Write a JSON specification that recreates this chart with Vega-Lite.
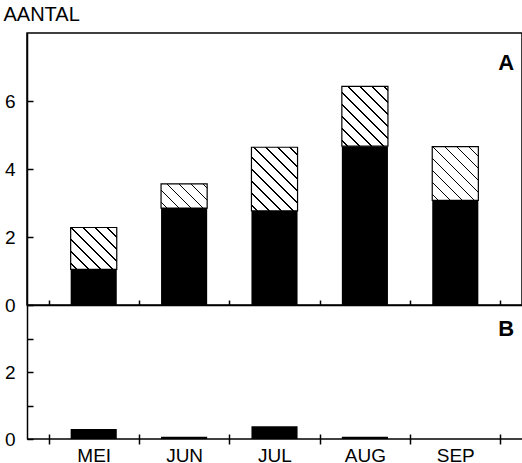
{
  "$schema": "https://vega.github.io/schema/vega-lite/v6.json",
  "padding": {"left": 2, "top": 3, "right": 1, "bottom": 0},
  "spacing": 0,
  "bounds": "flush",
  "config": {
    "view": {"stroke": null},
    "font": "Liberation Sans",
    "axis": {
      "domainColor": "black", "domainWidth": 1.5,
      "tickColor": "black", "tickWidth": 1.5,
      "labelColor": "black", "labelFont": "Liberation Sans", "labelFontSize": 19,
      "titleColor": "black", "titleFont": "Liberation Sans",
      "grid": false
    }
  },
  "datasets": {
    "top": [
      {"month": "MEI", "zwart": 1.05, "totaal": 2.28},
      {"month": "JUN", "zwart": 2.85, "totaal": 3.56},
      {"month": "JUL", "zwart": 2.77, "totaal": 4.64},
      {"month": "AUG", "zwart": 4.67, "totaal": 6.43},
      {"month": "SEP", "zwart": 3.08, "totaal": 4.66}
    ],
    "bottom": [
      {"month": "MEI", "aantal": 0.3},
      {"month": "JUN", "aantal": 0.07},
      {"month": "JUL", "aantal": 0.38},
      {"month": "AUG", "aantal": 0.07},
      {"month": "SEP", "aantal": 0}
    ]
  },
  "vconcat": [
    {
      "width": 495,
      "height": 272,
      "view": {"stroke": "black", "strokeWidth": 1.5},
      "data": {"name": "top"},
      "encoding": {
        "x": {
          "field": "month", "type": "nominal",
          "sort": ["MEI", "JUN", "JUL", "AUG", "SEP"],
          "scale": {"paddingInner": 0, "paddingOuter": 0.238},
          "axis": {"labels": false, "title": null, "tickBand": "extent", "tickSize": -5}
        }
      },
      "layer": [
        {
          "mark": {"type": "bar", "color": "black", "width": {"band": 0.51}},
          "encoding": {
            "y": {
              "field": "zwart", "type": "quantitative",
              "scale": {"domain": [0, 8], "nice": false},
              "axis": {
                "title": "AANTAL", "titleAngle": 0, "titleAlign": "left", "titleBaseline": "top",
                "titleX": -24, "titleY": -29, "titleFontSize": 20, "titleFontWeight": "normal",
                "values": [0, 1, 2, 3, 4, 5, 6, 7],
                "labelExpr": "datum.value % 2 === 0 ? datum.label : ''",
                "tickSize": -6, "labelPadding": 18
              }
            }
          }
        },
        {
          "mark": {"type": "bar", "stroke": "black", "strokeWidth": 1.2, "width": {"band": 0.51}},
          "encoding": {
            "y": {"field": "zwart", "type": "quantitative", "title": "AANTAL"},
            "y2": {"field": "totaal"},
            "fill": {
              "condition": [
                {"test": "datum.month === 'MEI'", "value": {"gradient": "linear", "x1": 0, "y1": 1, "x2": 1.0464, "y2": 0.0511, "stops": [
                  {"offset": 0.0586, "color": "white"}, {"offset": 0.0586, "color": "black"}, {"offset": 0.078, "color": "black"}, {"offset": 0.078, "color": "white"},
                  {"offset": 0.1951, "color": "white"}, {"offset": 0.1951, "color": "black"}, {"offset": 0.2145, "color": "black"}, {"offset": 0.2145, "color": "white"},
                  {"offset": 0.3316, "color": "white"}, {"offset": 0.3316, "color": "black"}, {"offset": 0.351, "color": "black"}, {"offset": 0.351, "color": "white"},
                  {"offset": 0.4681, "color": "white"}, {"offset": 0.4681, "color": "black"}, {"offset": 0.4875, "color": "black"}, {"offset": 0.4875, "color": "white"},
                  {"offset": 0.6046, "color": "white"}, {"offset": 0.6046, "color": "black"}, {"offset": 0.624, "color": "black"}, {"offset": 0.624, "color": "white"},
                  {"offset": 0.7412, "color": "white"}, {"offset": 0.7412, "color": "black"}, {"offset": 0.7606, "color": "black"}, {"offset": 0.7606, "color": "white"},
                  {"offset": 0.8777, "color": "white"}, {"offset": 0.8777, "color": "black"}, {"offset": 0.8971, "color": "black"}, {"offset": 0.8971, "color": "white"}
                ]}},
                {"test": "datum.month === 'JUN'", "value": {"gradient": "linear", "x1": 0, "y1": 1, "x2": 1.196, "y2": 0.3748, "stops": [
                  {"offset": 0.0734, "color": "white"}, {"offset": 0.0734, "color": "black"}, {"offset": 0.0976, "color": "black"}, {"offset": 0.0976, "color": "white"},
                  {"offset": 0.2443, "color": "white"}, {"offset": 0.2443, "color": "black"}, {"offset": 0.2685, "color": "black"}, {"offset": 0.2685, "color": "white"},
                  {"offset": 0.4153, "color": "white"}, {"offset": 0.4153, "color": "black"}, {"offset": 0.4395, "color": "black"}, {"offset": 0.4395, "color": "white"},
                  {"offset": 0.5862, "color": "white"}, {"offset": 0.5862, "color": "black"}, {"offset": 0.6104, "color": "black"}, {"offset": 0.6104, "color": "white"},
                  {"offset": 0.7571, "color": "white"}, {"offset": 0.7571, "color": "black"}, {"offset": 0.7813, "color": "black"}, {"offset": 0.7813, "color": "white"},
                  {"offset": 0.9281, "color": "white"}, {"offset": 0.9281, "color": "black"}, {"offset": 0.9523, "color": "black"}, {"offset": 0.9523, "color": "white"}
                ]}},
                {"test": "datum.month === 'JUL'", "value": {"gradient": "linear", "x1": 0, "y1": 1, "x2": 0.8196, "y2": -0.1307, "stops": [
                  {"offset": 0.047, "color": "white"}, {"offset": 0.047, "color": "black"}, {"offset": 0.0624, "color": "black"}, {"offset": 0.0624, "color": "white"},
                  {"offset": 0.1564, "color": "white"}, {"offset": 0.1564, "color": "black"}, {"offset": 0.1718, "color": "black"}, {"offset": 0.1718, "color": "white"},
                  {"offset": 0.2658, "color": "white"}, {"offset": 0.2658, "color": "black"}, {"offset": 0.2812, "color": "black"}, {"offset": 0.2812, "color": "white"},
                  {"offset": 0.3752, "color": "white"}, {"offset": 0.3752, "color": "black"}, {"offset": 0.3906, "color": "black"}, {"offset": 0.3906, "color": "white"},
                  {"offset": 0.4846, "color": "white"}, {"offset": 0.4846, "color": "black"}, {"offset": 0.5, "color": "black"}, {"offset": 0.5, "color": "white"},
                  {"offset": 0.5939, "color": "white"}, {"offset": 0.5939, "color": "black"}, {"offset": 0.6093, "color": "black"}, {"offset": 0.6093, "color": "white"},
                  {"offset": 0.7033, "color": "white"}, {"offset": 0.7033, "color": "black"}, {"offset": 0.7187, "color": "black"}, {"offset": 0.7187, "color": "white"},
                  {"offset": 0.8127, "color": "white"}, {"offset": 0.8127, "color": "black"}, {"offset": 0.8281, "color": "black"}, {"offset": 0.8281, "color": "white"},
                  {"offset": 0.9221, "color": "white"}, {"offset": 0.9221, "color": "black"}, {"offset": 0.9375, "color": "black"}, {"offset": 0.9375, "color": "white"}
                ]}},
                {"test": "datum.month === 'AUG'", "value": {"gradient": "linear", "x1": 0, "y1": 1, "x2": 0.8563, "y2": -0.1108, "stops": [
                  {"offset": 0.0487, "color": "white"}, {"offset": 0.0487, "color": "black"}, {"offset": 0.0647, "color": "black"}, {"offset": 0.0647, "color": "white"},
                  {"offset": 0.162, "color": "white"}, {"offset": 0.162, "color": "black"}, {"offset": 0.178, "color": "black"}, {"offset": 0.178, "color": "white"},
                  {"offset": 0.2753, "color": "white"}, {"offset": 0.2753, "color": "black"}, {"offset": 0.2913, "color": "black"}, {"offset": 0.2913, "color": "white"},
                  {"offset": 0.3886, "color": "white"}, {"offset": 0.3886, "color": "black"}, {"offset": 0.4046, "color": "black"}, {"offset": 0.4046, "color": "white"},
                  {"offset": 0.5019, "color": "white"}, {"offset": 0.5019, "color": "black"}, {"offset": 0.5179, "color": "black"}, {"offset": 0.5179, "color": "white"},
                  {"offset": 0.6152, "color": "white"}, {"offset": 0.6152, "color": "black"}, {"offset": 0.6312, "color": "black"}, {"offset": 0.6312, "color": "white"},
                  {"offset": 0.7285, "color": "white"}, {"offset": 0.7285, "color": "black"}, {"offset": 0.7445, "color": "black"}, {"offset": 0.7445, "color": "white"},
                  {"offset": 0.8419, "color": "white"}, {"offset": 0.8419, "color": "black"}, {"offset": 0.8579, "color": "black"}, {"offset": 0.8579, "color": "white"},
                  {"offset": 0.9552, "color": "white"}, {"offset": 0.9552, "color": "black"}, {"offset": 0.9712, "color": "black"}, {"offset": 0.9712, "color": "white"}
                ]}},
                {"test": "datum.month === 'SEP'", "value": {"gradient": "linear", "x1": 0, "y1": 1, "x2": 0.9185, "y2": -0.07, "stops": [
                  {"offset": 0.0516, "color": "white"}, {"offset": 0.0516, "color": "black"}, {"offset": 0.0686, "color": "black"}, {"offset": 0.0686, "color": "white"},
                  {"offset": 0.1719, "color": "white"}, {"offset": 0.1719, "color": "black"}, {"offset": 0.1889, "color": "black"}, {"offset": 0.1889, "color": "white"},
                  {"offset": 0.2921, "color": "white"}, {"offset": 0.2921, "color": "black"}, {"offset": 0.3091, "color": "black"}, {"offset": 0.3091, "color": "white"},
                  {"offset": 0.4123, "color": "white"}, {"offset": 0.4123, "color": "black"}, {"offset": 0.4293, "color": "black"}, {"offset": 0.4293, "color": "white"},
                  {"offset": 0.5326, "color": "white"}, {"offset": 0.5326, "color": "black"}, {"offset": 0.5496, "color": "black"}, {"offset": 0.5496, "color": "white"},
                  {"offset": 0.6528, "color": "white"}, {"offset": 0.6528, "color": "black"}, {"offset": 0.6698, "color": "black"}, {"offset": 0.6698, "color": "white"},
                  {"offset": 0.7731, "color": "white"}, {"offset": 0.7731, "color": "black"}, {"offset": 0.7901, "color": "black"}, {"offset": 0.7901, "color": "white"},
                  {"offset": 0.8933, "color": "white"}, {"offset": 0.8933, "color": "black"}, {"offset": 0.9103, "color": "black"}, {"offset": 0.9103, "color": "white"}
                ]}}
              ],
              "value": "white"
            }
          }
        },
        {
          "data": {"values": [{"panel": "A"}]},
          "mark": {"type": "text", "font": "Liberation Sans", "fontSize": 22, "fontWeight": "bold", "align": "center", "baseline": "middle", "dx": 51, "color": "black"},
          "encoding": {
            "x": {"datum": "SEP"},
            "y": {"datum": 7.13},
            "text": {"field": "panel"}
          }
        }
      ]
    },
    {
      "width": 495,
      "height": 134,
      "data": {"name": "bottom"},
      "encoding": {
        "x": {
          "field": "month", "type": "nominal",
          "sort": ["MEI", "JUN", "JUL", "AUG", "SEP"],
          "scale": {"paddingInner": 0, "paddingOuter": 0.238},
          "axis": {"title": null, "tickBand": "extent", "tickSize": 10, "offset": -5, "domain": false, "labelPadding": 2, "labelAngle": 0}
        }
      },
      "layer": [
        {
          "data": {"values": [{}]},
          "mark": {"type": "rule", "color": "black", "strokeWidth": 1.5},
          "encoding": {"x": null, "y": {"datum": 0}}
        },
        {
          "mark": {"type": "bar", "color": "black", "width": {"band": 0.51}},
          "encoding": {
            "y": {
              "field": "aantal", "type": "quantitative",
              "scale": {"domain": [0, 4], "nice": false},
              "axis": {
                "title": null,
                "values": [0, 1, 2, 3],
                "labelExpr": "datum.value % 2 === 0 ? datum.label : ''",
                "tickSize": -6, "labelPadding": 18
              }
            }
          }
        },
        {
          "data": {"values": [{"panel": "B"}]},
          "mark": {"type": "text", "font": "Liberation Sans", "fontSize": 22, "fontWeight": "bold", "align": "center", "baseline": "middle", "dx": 51, "color": "black"},
          "encoding": {
            "x": {"datum": "SEP"},
            "y": {"datum": 3.27},
            "text": {"field": "panel"}
          }
        }
      ]
    }
  ]
}
